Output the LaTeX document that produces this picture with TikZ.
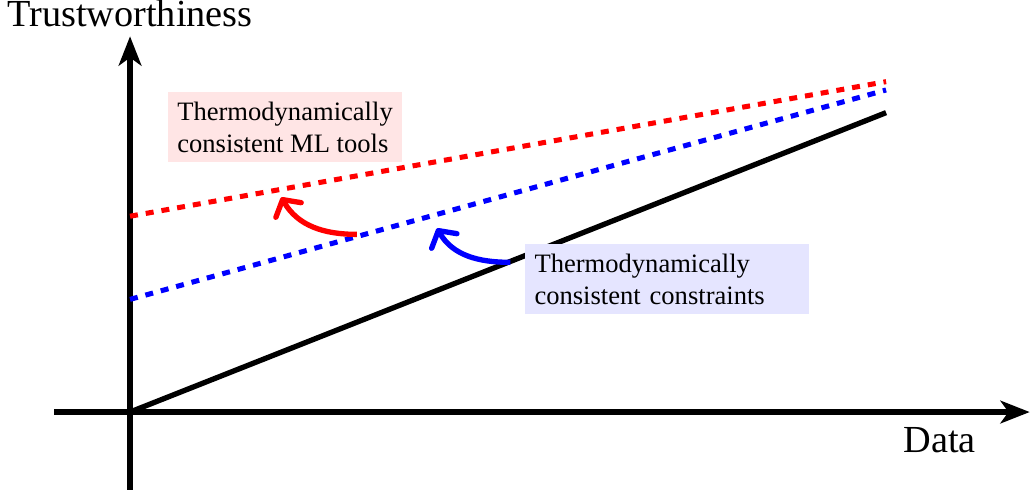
\documentclass[tikz,border=0pt]{standalone}
\usepackage{fontspec}
\setmainfont{Liberation Serif}
\usetikzlibrary{arrows.meta}
\begin{document}
\begin{tikzpicture}[
    axis/.style={line width=2pt, -{Stealth[length=11pt,width=8.5pt,inset=3pt]}},
    trend/.style={line width=1.9pt, dashed},
    curl/.style={line width=2pt, -{Straight Barb[length=4.5pt,width=11pt,round]}},
    tag/.style={align=left, inner sep=3.6pt}
  ]
   		\useasboundingbox (-1.72,-1.10) rectangle (11.93,5.45);
   		
   		% Axes
   		\coordinate (O) at (0,0);
   		\draw[axis] (-1,0) -- (11.9,0);
   		\draw[axis] (0,-1.03) -- (0,4.97);
   		\node[above] (ylabel) at (0,4.97) {\Large Trustworthiness};
   		\node (xlabel) at (10.71,-0.37) {\Large Data};
   		
   		% Solid line
   		\coordinate (base end) at (10,3.96);
   		\draw[line width=2pt] (O) -- (base end);
   		
   		% Dashed lines
   		\coordinate (red start) at (0,2.59);
   		\coordinate (red end) at (10,4.37);
   		\coordinate (blue start) at (0,1.49);
   		\coordinate (blue end) at (10,4.26);
   		\draw[trend, red] (red start) -- (red end);
   		\draw[trend, blue] (blue start) -- (blue end);
   		
   		% Labels
   		\node[tag, fill=red!10] (mltools) at (2.05,3.77) {Thermodynamically\\consistent ML tools};
   		\node[tag, fill=blue!10, text width=3.5cm] (constraints) at (7.10,1.76) {Thermodynamically\\consistent constraints};
   		
   		% Curved arrows
   		\coordinate (red from) at (3.0,2.35);
   		\coordinate (red to) at (2.0,2.84);
   		\coordinate (blue from) at (5.03,1.98);
   		\coordinate (blue to) at (4.06,2.43);
   		\draw[curl, red] (red from) to[out=180, in=-60] (red to);
   		\draw[curl, blue] (blue from) to[out=180, in=-60] (blue to);
   		
   	\end{tikzpicture}
\end{document}
